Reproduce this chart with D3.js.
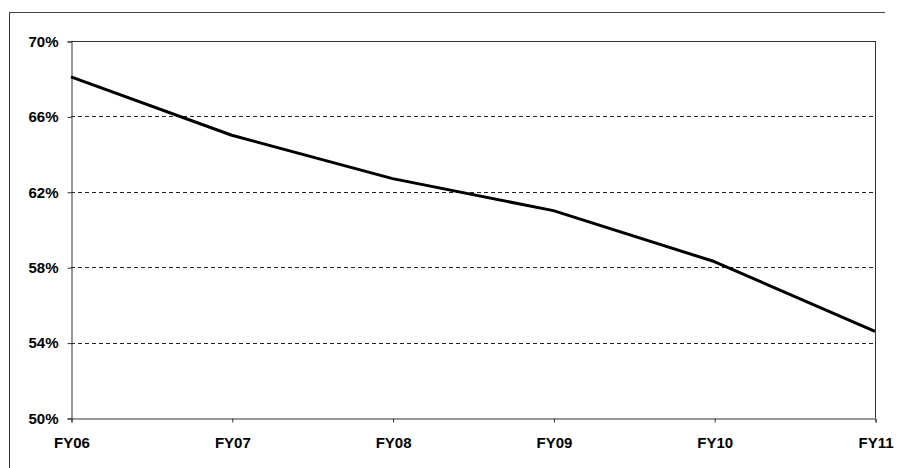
<!DOCTYPE html>
<html><head><meta charset="utf-8">
<script src="https://cdn.jsdelivr.net/npm/d3@7"></script>
<style>body{margin:0;background:#fff}svg{display:block}</style>
</head><body><div id="chart"></div>
<script>
const categories = ["FY06","FY07","FY08","FY09","FY10","FY11"];
const values = [68.1, 65.0, 62.7, 61.0, 58.3, 54.6];
const yTicks = [50, 54, 58, 62, 66, 70];

const W = 897, H = 468;
const m = {left:71, top:41, right:875, bottom:418};
const FONT = "Liberation Sans, Arial, sans-serif";
const svg = d3.select("#chart").append("svg").attr("width", W).attr("height", H);

// outer frame (left + top)
svg.append("line").attr("x1",9.5).attr("x2",9.5).attr("y1",12).attr("y2",H).attr("stroke","#333").attr("stroke-width",1);
svg.append("line").attr("x1",9).attr("x2",885).attr("y1",12.5).attr("y2",12.5).attr("stroke","#444").attr("stroke-width",1);

const x = d3.scalePoint().domain(categories).range([m.left, m.right]);
const y = d3.scaleLinear().domain([50,70]).range([m.bottom, m.top]);

// gridlines
svg.append("g").selectAll("line").data(yTicks.filter(t => t>50 && t<70)).join("line")
  .attr("x1", m.left).attr("x2", m.right)
  .attr("y1", d => Math.round(y(d))+0.5).attr("y2", d => Math.round(y(d))+0.5)
  .attr("stroke","#222").attr("stroke-width",1).attr("stroke-dasharray","4,3");

// plot border top & right
svg.append("line").attr("x1",m.left).attr("x2",m.right).attr("y1",m.top+0.5).attr("y2",m.top+0.5).attr("stroke","#333");
svg.append("line").attr("x1",m.right+0.5).attr("x2",m.right+0.5).attr("y1",m.top).attr("y2",m.bottom).attr("stroke","#333");

// y axis
const yAxis = d3.axisLeft(y).tickValues(yTicks).tickFormat(d => d + "%").tickSize(4).tickPadding(9);
const gy = svg.append("g").attr("transform",`translate(${m.left+0.5},0.5)`).call(yAxis);
gy.select(".domain").attr("stroke","#333");
gy.selectAll(".tick line").attr("stroke","#333");
gy.selectAll("text").attr("font-size",15).attr("font-family",FONT).attr("font-weight","bold").attr("fill","#000");

// x axis
const xAxis = d3.axisBottom(x).tickSize(4).tickPadding(15);
const gx = svg.append("g").attr("transform",`translate(0.5,${m.bottom+0.5})`).call(xAxis);
gx.select(".domain").attr("stroke","#333");
gx.selectAll(".tick line").attr("stroke","#333");
gx.selectAll("text").attr("font-size",15).attr("font-family",FONT).attr("font-weight","bold").attr("fill","#000");

// line
const line = d3.line().x((d,i) => x(categories[i])).y(d => y(d));
svg.append("path").datum(values).attr("d", line).attr("fill","none").attr("stroke","#000").attr("stroke-width",3).attr("stroke-linejoin","round");
</script></body></html>
